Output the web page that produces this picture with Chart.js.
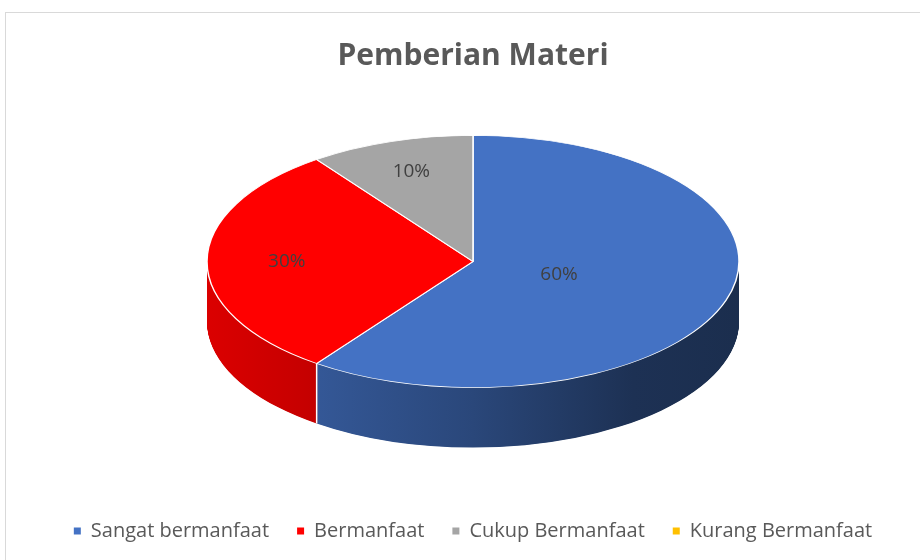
<!DOCTYPE html>
<html>
<head>
<meta charset="utf-8">
<script src="https://cdn.jsdelivr.net/npm/chart.js@4.4.0/dist/chart.umd.min.js"></script>
<style>
  html, body { margin: 0; padding: 0; background: #fff; overflow: hidden; }
  #frame { position: absolute; left: 5px; top: 12px; width: 1000px; height: 1000px; border: 1px solid #d9d9d9; }
  #wrap { position: absolute; left: 0; top: 0; width: 920px; height: 560px; }
</style>
</head>
<body>
<div id="frame"></div>
<div id="wrap"><canvas id="chart" width="920" height="560"></canvas></div>
<script>
const chartTitle = 'Pemberian Materi';
const categories = ['Sangat bermanfaat', 'Bermanfaat', 'Cukup Bermanfaat', 'Kurang Bermanfaat'];
const values = [60, 30, 10, 0];
const colors = ['#4472c4', '#ff0000', '#a5a5a5', '#ffc000'];

// darken a hex colour by factor f
const shade = (hex, f) => {
  const n = parseInt(hex.slice(1), 16);
  return `rgb(${Math.round((n >> 16 & 255) * f)},${Math.round((n >> 8 & 255) * f)},${Math.round((n & 255) * f)})`;
};
const sideStops = [[0, 0.86], [0.18, 0.78], [0.5, 0.62], [0.8, 0.43], [1, 0.4]];

// fake 3D: squash the pie vertically and paint a side wall under it
const pie3d = {
  id: 'pie3d',
  beforeDatasetsDraw(chart, args, opts) {
    const ctx = chart.ctx;
    const arcs = chart.getDatasetMeta(0).data;
    const { x, y, outerRadius: r } = arcs[0];
    const k = opts.tilt, depth = opts.depth;
    ctx.save();
    ctx.translate(x, y - depth / 2);
    ctx.scale(1, k);
    ctx.translate(-x, -y);
    const fills = arcs.map((a, i) => {
      const g = ctx.createLinearGradient(x - r, 0, x + r, 0);
      sideStops.forEach(([p, f]) => g.addColorStop(p, shade(colors[i], f)));
      return g;
    });
    for (let d = depth; d > 0; d -= 0.5) {
      const yy = y + d / k;
      arcs.forEach((a, i) => {
        if (a.endAngle - a.startAngle <= 0) return;
        ctx.beginPath();
        ctx.moveTo(x, yy);
        ctx.arc(x, yy, r, a.startAngle, a.endAngle);
        ctx.closePath();
        ctx.fillStyle = fills[i];
        ctx.fill();
      });
    }
    ctx.strokeStyle = '#ffffff';
    ctx.lineWidth = 1.5;
    arcs.forEach(a => {
      if (a.endAngle - a.startAngle <= 0 || Math.sin(a.startAngle) <= 0) return;
      const ex = x + r * Math.cos(a.startAngle), ey = y + r * Math.sin(a.startAngle);
      ctx.beginPath();
      ctx.moveTo(ex, ey);
      ctx.lineTo(ex, ey + depth / k);
      ctx.stroke();
    });
  },
  afterDatasetsDraw(chart, args, opts) {
    const ctx = chart.ctx;
    ctx.restore();
    const arcs = chart.getDatasetMeta(0).data;
    const total = values.reduce((s, v) => s + v, 0);
    ctx.save();
    ctx.font = '19px "Open Sans"';
    ctx.fillStyle = '#404040';
    ctx.textAlign = 'center';
    ctx.textBaseline = 'middle';
    arcs.forEach((a, i) => {
      if (!values[i]) return;
      const mid = (a.startAngle + a.endAngle) / 2;
      const f = opts.labelRadius[i] * a.outerRadius;
      const px = a.x + f * Math.cos(mid);
      const py = a.y - opts.depth / 2 + f * Math.sin(mid) * opts.tilt;
      ctx.fillText(Math.round(values[i] / total * 100) + '%', px, py);
    });
    ctx.restore();
  }
};

const baseLabels = Chart.overrides.doughnut.plugins.legend.labels.generateLabels;

new Chart(document.getElementById('chart'), {
  type: 'pie',
  data: {
    labels: categories,
    datasets: [{
      data: values,
      backgroundColor: colors,
      borderColor: '#ffffff',
      borderWidth: 1.5,
      radius: 266,
      clip: false
    }]
  },
  options: {
    responsive: false,
    animation: false,
    events: [],
    layout: { padding: { left: 26, right: 0, top: 0, bottom: 9 } },
    plugins: {
      title: {
        display: true, text: chartTitle, color: '#595959',
        font: { family: 'Open Sans', size: 30, weight: 'bold' },
        padding: { top: 38, bottom: 16 }
      },
      legend: {
        position: 'bottom',
        labels: {
          boxWidth: 7, boxHeight: 7, padding: 28, color: '#595959',
          font: { family: 'Open Sans', size: 20 },
          generateLabels: c => baseLabels(c).map(l => ({ ...l, lineWidth: 0 }))
        }
      },
      tooltip: { enabled: false },
      pie3d: { tilt: 0.474, depth: 60, labelRadius: [0.34, 0.7, 0.75, 0.7] }
    }
  },
  plugins: [pie3d]
});
</script>
</body>
</html>
